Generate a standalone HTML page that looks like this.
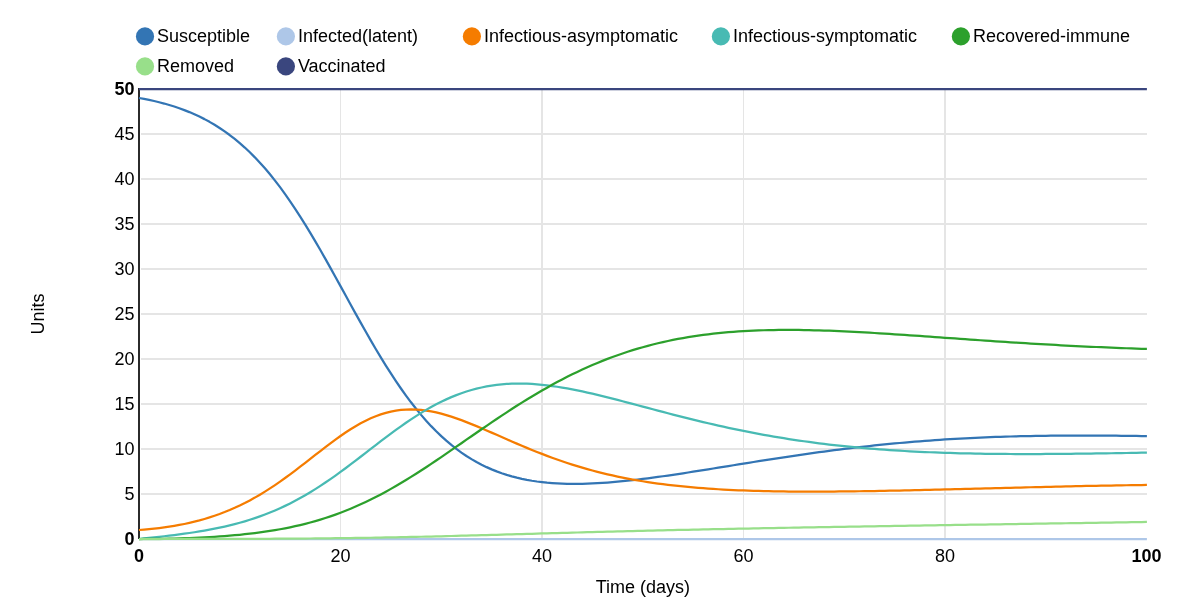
<!DOCTYPE html>
<html lang="en"><head><meta charset="utf-8"><title>Epidemic model chart</title>
<style>
html,body{margin:0;padding:0;background:#fff;}
body{width:1192px;height:615px;overflow:hidden;}
svg{display:block;font-family:"Liberation Sans",Arial,Helvetica,sans-serif;font-size:18px;fill:#000;}
.grid rect{fill:#e5e5e5;shape-rendering:crispEdges;}
.ln{fill:none;stroke-width:2.25;stroke-linejoin:round;stroke-linecap:butt;}
.b{font-weight:bold;}
</style></head><body>
<svg width="1192" height="615" viewBox="0 0 1192 615">
<rect width="1192" height="615" fill="#fff"/>
<g class="grid">
<rect x="141" y="493" width="1006" height="2"/>
<rect x="141" y="448" width="1006" height="2"/>
<rect x="141" y="403" width="1006" height="2"/>
<rect x="141" y="358" width="1006" height="2"/>
<rect x="141" y="313" width="1006" height="2"/>
<rect x="141" y="268" width="1006" height="2"/>
<rect x="141" y="223" width="1006" height="2"/>
<rect x="141" y="178" width="1006" height="2"/>
<rect x="141" y="133" width="1006" height="2"/>
<rect x="340" y="89" width="1" height="450"/>
<rect x="541" y="89" width="2" height="450"/>
<rect x="743" y="89" width="1" height="450"/>
<rect x="944" y="89" width="2" height="450"/>
</g>
<rect x="138" y="88" width="2" height="451" fill="#2b2b2b" shape-rendering="crispEdges"/>
<g text-anchor="end">
<text class="b" x="134.6" y="544.76">0</text>
<text x="134.6" y="499.76">5</text>
<text x="134.6" y="454.76">10</text>
<text x="134.6" y="409.76">15</text>
<text x="134.6" y="364.76">20</text>
<text x="134.6" y="319.76">25</text>
<text x="134.6" y="274.76">30</text>
<text x="134.6" y="229.76">35</text>
<text x="134.6" y="184.76">40</text>
<text x="134.6" y="139.76">45</text>
<text class="b" x="134.6" y="94.76">50</text>
</g>
<g text-anchor="middle">
<text class="b" x="139.10" y="561.7">0</text>
<text x="340.60" y="561.7">20</text>
<text x="542.10" y="561.7">40</text>
<text x="743.60" y="561.7">60</text>
<text x="945.10" y="561.7">80</text>
<text class="b" x="1146.60" y="561.7">100</text>
</g>
<text text-anchor="middle" x="642.85" y="592.5">Time (days)</text>
<text text-anchor="middle" transform="translate(44,314) rotate(-90)">Units</text>
<path class="ln" stroke="#3375b4" d="M139.00,98.00L144.04,98.91L149.07,99.92L154.11,101.02L159.15,102.23L164.19,103.54L169.22,104.98L174.26,106.54L179.30,108.24L184.34,110.09L189.38,112.09L194.41,114.25L199.45,116.60L204.49,119.13L209.52,121.86L214.56,124.80L219.60,127.97L224.64,131.37L229.68,135.02L234.71,138.92L239.75,143.10L244.79,147.55L249.82,152.30L254.86,157.34L259.90,162.69L264.94,168.34L269.98,174.31L275.01,180.59L280.05,187.19L285.09,194.09L290.12,201.30L295.16,208.79L300.20,216.57L305.24,224.60L310.27,232.88L315.31,241.38L320.35,250.06L325.39,258.91L330.42,267.90L335.46,276.98L340.50,286.13L345.54,295.30L350.57,304.47L355.61,313.59L360.65,322.64L365.69,331.57L370.73,340.36L375.76,348.97L380.80,357.37L385.84,365.55L390.88,373.47L395.91,381.12L400.95,388.49L405.99,395.55L411.02,402.31L416.06,408.75L421.10,414.87L426.14,420.67L431.17,426.15L436.21,431.31L441.25,436.16L446.29,440.70L451.32,444.94L456.36,448.90L461.40,452.58L466.44,455.98L471.47,459.13L476.51,462.03L481.55,464.70L486.59,467.14L491.62,469.36L496.66,471.39L501.70,473.22L506.74,474.87L511.77,476.35L516.81,477.67L521.85,478.83L526.89,479.85L531.92,480.74L536.96,481.50L542.00,482.14L547.04,482.68L552.08,483.10L557.11,483.43L562.15,483.67L567.19,483.82L572.22,483.89L577.26,483.89L582.30,483.82L587.34,483.68L592.38,483.48L597.41,483.23L602.45,482.92L607.49,482.56L612.52,482.16L617.56,481.71L622.60,481.23L627.64,480.70L632.67,480.15L637.71,479.56L642.75,478.95L647.79,478.31L652.82,477.65L657.86,476.96L662.90,476.26L667.94,475.53L672.97,474.79L678.01,474.04L683.05,473.27L688.09,472.50L693.12,471.71L698.16,470.92L703.20,470.12L708.24,469.31L713.27,468.50L718.31,467.69L723.35,466.87L728.39,466.06L733.42,465.24L738.46,464.43L743.50,463.61L748.54,462.80L753.57,462.00L758.61,461.20L763.65,460.41L768.69,459.62L773.72,458.84L778.76,458.06L783.80,457.30L788.84,456.54L793.88,455.79L798.91,455.06L803.95,454.33L808.99,453.61L814.02,452.91L819.06,452.22L824.10,451.54L829.14,450.87L834.17,450.22L839.21,449.57L844.25,448.95L849.29,448.33L854.32,447.73L859.36,447.15L864.40,446.58L869.44,446.02L874.47,445.48L879.51,444.95L884.55,444.44L889.59,443.95L894.62,443.47L899.66,443.00L904.70,442.55L909.74,442.11L914.77,441.69L919.81,441.29L924.85,440.90L929.89,440.53L934.92,440.17L939.96,439.82L945.00,439.49L950.04,439.18L955.07,438.88L960.11,438.59L965.15,438.32L970.19,438.07L975.22,437.82L980.26,437.60L985.30,437.38L990.34,437.18L995.37,436.99L1000.41,436.81L1005.45,436.65L1010.49,436.50L1015.52,436.36L1020.56,436.24L1025.60,436.12L1030.64,436.02L1035.67,435.93L1040.71,435.84L1045.75,435.77L1050.79,435.71L1055.82,435.66L1060.86,435.62L1065.90,435.59L1070.94,435.56L1075.97,435.55L1081.01,435.54L1086.05,435.55L1091.09,435.56L1096.12,435.57L1101.16,435.60L1106.20,435.63L1111.24,435.66L1116.28,435.71L1121.31,435.76L1126.35,435.81L1131.39,435.87L1136.42,435.94L1141.46,436.01L1146.50,436.08h0.4"/>
<path class="ln" stroke="#aec7e8" d="M139.00,539.00 H1146.90"/>
<path class="ln" stroke="#f57c00" d="M139.00,530.00L144.04,529.63L149.07,529.19L154.11,528.68L159.15,528.10L164.19,527.44L169.22,526.70L174.26,525.88L179.30,524.98L184.34,523.98L189.38,522.88L194.41,521.68L199.45,520.38L204.49,518.96L209.52,517.43L214.56,515.77L219.60,513.99L224.64,512.07L229.68,510.02L234.71,507.83L239.75,505.49L244.79,503.01L249.82,500.38L254.86,497.61L259.90,494.69L264.94,491.62L269.98,488.41L275.01,485.07L280.05,481.60L285.09,478.02L290.12,474.33L295.16,470.56L300.20,466.71L305.24,462.81L310.27,458.88L315.31,454.94L320.35,451.02L325.39,447.14L330.42,443.32L335.46,439.60L340.50,436.00L345.54,432.55L350.57,429.27L355.61,426.19L360.65,423.33L365.69,420.70L370.73,418.32L375.76,416.22L380.80,414.39L385.84,412.84L390.88,411.59L395.91,410.62L400.95,409.94L405.99,409.54L411.02,409.41L416.06,409.55L421.10,409.94L426.14,410.56L431.17,411.41L436.21,412.46L441.25,413.69L446.29,415.10L451.32,416.66L456.36,418.36L461.40,420.17L466.44,422.09L471.47,424.09L476.51,426.15L481.55,428.28L486.59,430.44L491.62,432.63L496.66,434.83L501.70,437.04L506.74,439.25L511.77,441.44L516.81,443.61L521.85,445.75L526.89,447.86L531.92,449.92L536.96,451.95L542.00,453.92L547.04,455.84L552.08,457.70L557.11,459.51L562.15,461.26L567.19,462.95L572.22,464.58L577.26,466.15L582.30,467.65L587.34,469.10L592.38,470.49L597.41,471.81L602.45,473.08L607.49,474.29L612.52,475.44L617.56,476.54L622.60,477.59L627.64,478.58L632.67,479.52L637.71,480.41L642.75,481.26L647.79,482.05L652.82,482.81L657.86,483.52L662.90,484.19L667.94,484.82L672.97,485.41L678.01,485.96L683.05,486.48L688.09,486.97L693.12,487.42L698.16,487.84L703.20,488.24L708.24,488.60L713.27,488.94L718.31,489.25L723.35,489.54L728.39,489.80L733.42,490.05L738.46,490.27L743.50,490.47L748.54,490.65L753.57,490.81L758.61,490.96L763.65,491.09L768.69,491.20L773.72,491.30L778.76,491.38L783.80,491.45L788.84,491.51L793.88,491.55L798.91,491.58L803.95,491.60L808.99,491.62L814.02,491.62L819.06,491.61L824.10,491.59L829.14,491.56L834.17,491.53L839.21,491.49L844.25,491.44L849.29,491.38L854.32,491.32L859.36,491.25L864.40,491.18L869.44,491.10L874.47,491.02L879.51,490.93L884.55,490.83L889.59,490.73L894.62,490.63L899.66,490.53L904.70,490.42L909.74,490.31L914.77,490.19L919.81,490.08L924.85,489.96L929.89,489.83L934.92,489.71L939.96,489.59L945.00,489.46L950.04,489.33L955.07,489.20L960.11,489.07L965.15,488.94L970.19,488.81L975.22,488.68L980.26,488.55L985.30,488.42L990.34,488.28L995.37,488.15L1000.41,488.02L1005.45,487.89L1010.49,487.76L1015.52,487.63L1020.56,487.51L1025.60,487.38L1030.64,487.25L1035.67,487.13L1040.71,487.01L1045.75,486.89L1050.79,486.77L1055.82,486.65L1060.86,486.54L1065.90,486.42L1070.94,486.31L1075.97,486.20L1081.01,486.10L1086.05,485.99L1091.09,485.89L1096.12,485.79L1101.16,485.69L1106.20,485.60L1111.24,485.51L1116.28,485.42L1121.31,485.33L1126.35,485.25L1131.39,485.16L1136.42,485.09L1141.46,485.01L1146.50,484.94h0.4"/>
<path class="ln" stroke="#48bab3" d="M139.00,539.00L144.04,538.47L149.07,537.93L154.11,537.39L159.15,536.83L164.19,536.25L169.22,535.66L174.26,535.04L179.30,534.39L184.34,533.71L189.38,533.00L194.41,532.24L199.45,531.44L204.49,530.58L209.52,529.67L214.56,528.71L219.60,527.67L224.64,526.56L229.68,525.38L234.71,524.12L239.75,522.77L244.79,521.33L249.82,519.79L254.86,518.15L259.90,516.40L264.94,514.54L269.98,512.56L275.01,510.46L280.05,508.24L285.09,505.89L290.12,503.42L295.16,500.81L300.20,498.08L305.24,495.22L310.27,492.23L315.31,489.12L320.35,485.89L325.39,482.55L330.42,479.10L335.46,475.56L340.50,471.93L345.54,468.22L350.57,464.45L355.61,460.62L360.65,456.76L365.69,452.88L370.73,448.98L375.76,445.10L380.80,441.23L385.84,437.41L390.88,433.64L395.91,429.94L400.95,426.32L405.99,422.79L411.02,419.38L416.06,416.08L421.10,412.92L426.14,409.90L431.17,407.03L436.21,404.31L441.25,401.76L446.29,399.37L451.32,397.15L456.36,395.11L461.40,393.24L466.44,391.54L471.47,390.02L476.51,388.67L481.55,387.49L486.59,386.47L491.62,385.62L496.66,384.92L501.70,384.38L506.74,383.98L511.77,383.72L516.81,383.60L521.85,383.61L526.89,383.74L531.92,383.99L536.96,384.35L542.00,384.81L547.04,385.37L552.08,386.02L557.11,386.75L562.15,387.56L567.19,388.44L572.22,389.38L577.26,390.38L582.30,391.44L587.34,392.55L592.38,393.70L597.41,394.89L602.45,396.11L607.49,397.36L612.52,398.63L617.56,399.93L622.60,401.24L627.64,402.56L632.67,403.89L637.71,405.23L642.75,406.57L647.79,407.92L652.82,409.26L657.86,410.59L662.90,411.92L667.94,413.24L672.97,414.55L678.01,415.84L683.05,417.12L688.09,418.39L693.12,419.64L698.16,420.86L703.20,422.07L708.24,423.26L713.27,424.43L718.31,425.57L723.35,426.70L728.39,427.79L733.42,428.87L738.46,429.92L743.50,430.94L748.54,431.94L753.57,432.92L758.61,433.87L763.65,434.79L768.69,435.69L773.72,436.56L778.76,437.41L783.80,438.23L788.84,439.02L793.88,439.80L798.91,440.54L803.95,441.26L808.99,441.96L814.02,442.63L819.06,443.28L824.10,443.91L829.14,444.51L834.17,445.09L839.21,445.64L844.25,446.18L849.29,446.69L854.32,447.18L859.36,447.65L864.40,448.10L869.44,448.53L874.47,448.94L879.51,449.33L884.55,449.70L889.59,450.05L894.62,450.38L899.66,450.70L904.70,451.00L909.74,451.28L914.77,451.55L919.81,451.79L924.85,452.03L929.89,452.25L934.92,452.45L939.96,452.64L945.00,452.81L950.04,452.98L955.07,453.12L960.11,453.26L965.15,453.38L970.19,453.49L975.22,453.59L980.26,453.68L985.30,453.76L990.34,453.83L995.37,453.89L1000.41,453.93L1005.45,453.97L1010.49,454.00L1015.52,454.02L1020.56,454.04L1025.60,454.04L1030.64,454.04L1035.67,454.03L1040.71,454.01L1045.75,453.99L1050.79,453.96L1055.82,453.93L1060.86,453.89L1065.90,453.84L1070.94,453.79L1075.97,453.74L1081.01,453.68L1086.05,453.62L1091.09,453.55L1096.12,453.48L1101.16,453.41L1106.20,453.33L1111.24,453.25L1116.28,453.17L1121.31,453.08L1126.35,453.00L1131.39,452.91L1136.42,452.82L1141.46,452.73L1146.50,452.64h0.4"/>
<path class="ln" stroke="#2ca02c" d="M139.00,539.00L144.04,538.99L149.07,538.96L154.11,538.92L159.15,538.85L164.19,538.77L169.22,538.67L174.26,538.55L179.30,538.41L184.34,538.24L189.38,538.06L194.41,537.86L199.45,537.63L204.49,537.37L209.52,537.09L214.56,536.78L219.60,536.45L224.64,536.08L229.68,535.67L234.71,535.23L239.75,534.76L244.79,534.24L249.82,533.68L254.86,533.07L259.90,532.42L264.94,531.71L269.98,530.95L275.01,530.13L280.05,529.25L285.09,528.31L290.12,527.29L295.16,526.21L300.20,525.05L305.24,523.81L310.27,522.50L315.31,521.09L320.35,519.61L325.39,518.03L330.42,516.36L335.46,514.60L340.50,512.74L345.54,510.79L350.57,508.74L355.61,506.59L360.65,504.34L365.69,502.00L370.73,499.56L375.76,497.02L380.80,494.40L385.84,491.68L390.88,488.88L395.91,485.99L400.95,483.03L405.99,479.99L411.02,476.88L416.06,473.71L421.10,470.47L426.14,467.19L431.17,463.85L436.21,460.48L441.25,457.07L446.29,453.63L451.32,450.16L456.36,446.68L461.40,443.20L466.44,439.70L471.47,436.21L476.51,432.73L481.55,429.26L486.59,425.81L491.62,422.39L496.66,418.99L501.70,415.64L506.74,412.32L511.77,409.04L516.81,405.81L521.85,402.64L526.89,399.52L531.92,396.45L536.96,393.45L542.00,390.52L547.04,387.65L552.08,384.84L557.11,382.11L562.15,379.45L567.19,376.87L572.22,374.36L577.26,371.92L582.30,369.56L587.34,367.28L592.38,365.08L597.41,362.95L602.45,360.90L607.49,358.92L612.52,357.03L617.56,355.20L622.60,353.46L627.64,351.79L632.67,350.19L637.71,348.67L642.75,347.21L647.79,345.83L652.82,344.52L657.86,343.27L662.90,342.10L667.94,340.99L672.97,339.94L678.01,338.95L683.05,338.03L688.09,337.16L693.12,336.36L698.16,335.61L703.20,334.91L708.24,334.27L713.27,333.68L718.31,333.14L723.35,332.64L728.39,332.20L733.42,331.80L738.46,331.44L743.50,331.12L748.54,330.85L753.57,330.61L758.61,330.41L763.65,330.25L768.69,330.12L773.72,330.02L778.76,329.96L783.80,329.92L788.84,329.92L793.88,329.94L798.91,329.99L803.95,330.06L808.99,330.15L814.02,330.27L819.06,330.41L824.10,330.57L829.14,330.74L834.17,330.94L839.21,331.15L844.25,331.37L849.29,331.61L854.32,331.87L859.36,332.13L864.40,332.41L869.44,332.70L874.47,333.00L879.51,333.31L884.55,333.62L889.59,333.94L894.62,334.27L899.66,334.61L904.70,334.95L909.74,335.29L914.77,335.64L919.81,335.99L924.85,336.34L929.89,336.70L934.92,337.06L939.96,337.41L945.00,337.77L950.04,338.13L955.07,338.49L960.11,338.85L965.15,339.20L970.19,339.55L975.22,339.90L980.26,340.25L985.30,340.60L990.34,340.94L995.37,341.28L1000.41,341.62L1005.45,341.95L1010.49,342.27L1015.52,342.59L1020.56,342.91L1025.60,343.22L1030.64,343.53L1035.67,343.83L1040.71,344.13L1045.75,344.42L1050.79,344.71L1055.82,344.99L1060.86,345.26L1065.90,345.53L1070.94,345.79L1075.97,346.04L1081.01,346.29L1086.05,346.53L1091.09,346.77L1096.12,347.00L1101.16,347.22L1106.20,347.44L1111.24,347.65L1116.28,347.86L1121.31,348.06L1126.35,348.25L1131.39,348.43L1136.42,348.61L1141.46,348.79L1146.50,348.96h0.4"/>
<path class="ln" stroke="#98df8a" d="M139.00,539.00L144.04,539.00L149.07,539.00L154.11,539.00L159.15,539.00L164.19,538.99L169.22,538.99L174.26,538.99L179.30,538.98L184.34,538.98L189.38,538.97L194.41,538.97L199.45,538.96L204.49,538.95L209.52,538.95L214.56,538.94L219.60,538.93L224.64,538.92L229.68,538.90L234.71,538.89L239.75,538.88L244.79,538.86L249.82,538.84L254.86,538.83L259.90,538.81L264.94,538.78L269.98,538.76L275.01,538.74L280.05,538.71L285.09,538.68L290.12,538.65L295.16,538.61L300.20,538.58L305.24,538.54L310.27,538.50L315.31,538.45L320.35,538.40L325.39,538.35L330.42,538.30L335.46,538.24L340.50,538.18L345.54,538.12L350.57,538.05L355.61,537.98L360.65,537.91L365.69,537.83L370.73,537.75L375.76,537.66L380.80,537.58L385.84,537.48L390.88,537.39L395.91,537.29L400.95,537.19L405.99,537.08L411.02,536.97L416.06,536.86L421.10,536.75L426.14,536.63L431.17,536.51L436.21,536.39L441.25,536.26L446.29,536.13L451.32,536.00L456.36,535.87L461.40,535.74L466.44,535.60L471.47,535.47L476.51,535.33L481.55,535.19L486.59,535.05L491.62,534.91L496.66,534.77L501.70,534.63L506.74,534.48L511.77,534.34L516.81,534.20L521.85,534.05L526.89,533.91L531.92,533.77L536.96,533.62L542.00,533.48L547.04,533.34L552.08,533.20L557.11,533.06L562.15,532.92L567.19,532.78L572.22,532.64L577.26,532.50L582.30,532.37L587.34,532.23L592.38,532.10L597.41,531.96L602.45,531.83L607.49,531.70L612.52,531.57L617.56,531.44L622.60,531.32L627.64,531.19L632.67,531.06L637.71,530.94L642.75,530.82L647.79,530.70L652.82,530.58L657.86,530.46L662.90,530.34L667.94,530.22L672.97,530.11L678.01,529.99L683.05,529.88L688.09,529.77L693.12,529.66L698.16,529.55L703.20,529.44L708.24,529.33L713.27,529.23L718.31,529.12L723.35,529.02L728.39,528.92L733.42,528.81L738.46,528.71L743.50,528.61L748.54,528.51L753.57,528.41L758.61,528.32L763.65,528.22L768.69,528.13L773.72,528.03L778.76,527.94L783.80,527.84L788.84,527.75L793.88,527.66L798.91,527.57L803.95,527.48L808.99,527.39L814.02,527.30L819.06,527.21L824.10,527.12L829.14,527.04L834.17,526.95L839.21,526.86L844.25,526.78L849.29,526.69L854.32,526.61L859.36,526.52L864.40,526.44L869.44,526.35L874.47,526.27L879.51,526.19L884.55,526.11L889.59,526.02L894.62,525.94L899.66,525.86L904.70,525.78L909.74,525.70L914.77,525.62L919.81,525.54L924.85,525.46L929.89,525.38L934.92,525.30L939.96,525.22L945.00,525.14L950.04,525.06L955.07,524.98L960.11,524.90L965.15,524.82L970.19,524.74L975.22,524.66L980.26,524.59L985.30,524.51L990.34,524.43L995.37,524.35L1000.41,524.27L1005.45,524.19L1010.49,524.11L1015.52,524.04L1020.56,523.96L1025.60,523.88L1030.64,523.80L1035.67,523.72L1040.71,523.65L1045.75,523.57L1050.79,523.49L1055.82,523.41L1060.86,523.33L1065.90,523.25L1070.94,523.17L1075.97,523.10L1081.01,523.02L1086.05,522.94L1091.09,522.86L1096.12,522.78L1101.16,522.70L1106.20,522.62L1111.24,522.54L1116.28,522.47L1121.31,522.39L1126.35,522.31L1131.39,522.23L1136.42,522.15L1141.46,522.07L1146.50,521.99h0.4"/>
<path class="ln" stroke="#3a467e" d="M139.00,89.00 H1146.90"/>
<circle cx="145.0" cy="36.4" r="9.1" fill="#3375b4"/>
<text x="157.0" y="42.06">Susceptible</text>
<circle cx="285.9" cy="36.4" r="9.1" fill="#aec7e8"/>
<text x="297.9" y="42.06">Infected(latent)</text>
<circle cx="471.9" cy="36.4" r="9.1" fill="#f57c00"/>
<text x="483.9" y="42.06">Infectious-asymptomatic</text>
<circle cx="720.9" cy="36.4" r="9.1" fill="#48bab3"/>
<text x="732.9" y="42.06">Infectious-symptomatic</text>
<circle cx="960.9" cy="36.4" r="9.1" fill="#2ca02c"/>
<text x="972.9" y="42.06">Recovered-immune</text>
<circle cx="145.0" cy="66.4" r="9.1" fill="#98df8a"/>
<text x="157.0" y="72.06">Removed</text>
<circle cx="285.9" cy="66.4" r="9.1" fill="#3a467e"/>
<text x="297.9" y="72.06">Vaccinated</text>
</svg></body></html>
